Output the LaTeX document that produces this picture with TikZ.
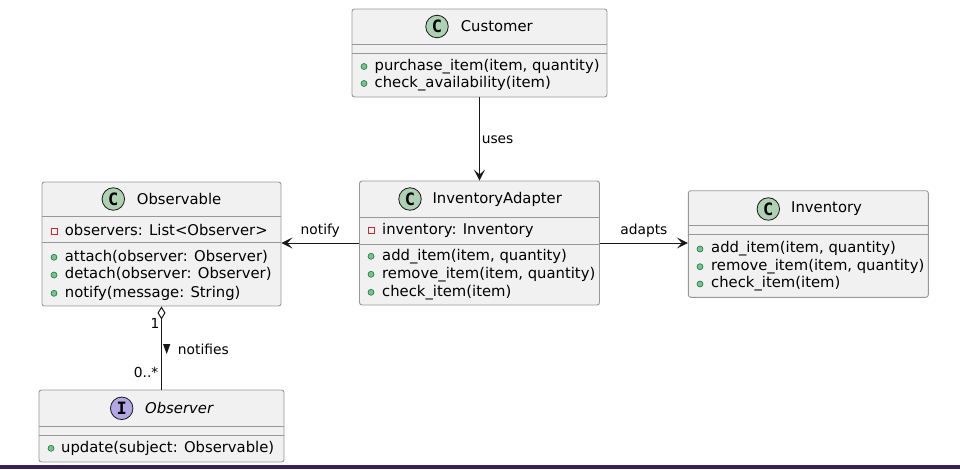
\documentclass[tikz,border=0pt]{standalone}
\usepackage{fontspec}
\setmainfont{DejaVu Sans}
\newfontfamily\spotfont{DejaVu Sans Mono}
\usetikzlibrary{arrows.meta,positioning}
\definecolor{boxfill}{HTML}{F1F1F1}
\definecolor{boxdraw}{HTML}{989898}
\definecolor{edgecol}{HTML}{181818}
\definecolor{classgreen}{HTML}{ADD1B2}
\definecolor{ifacepurple}{HTML}{B4A7E5}
\definecolor{privred}{HTML}{C82930}
\definecolor{pubfill}{HTML}{84BE84}
\definecolor{pubdraw}{HTML}{038048}
\definecolor{barpurple}{HTML}{3A1E5C}

\begin{document}
\begin{tikzpicture}[x=1pt,y=-1pt,
	classbox/.style={draw=boxdraw,fill=boxfill,rounded corners=2.5pt,line width=0.9pt,inner sep=0},
	sep/.style={draw=boxdraw,line width=0.9pt},
	spot/.style={circle,draw=edgecol,line width=0.8pt,minimum size=22.5pt,inner sep=0,
		font=\spotfont\bfseries\fontsize{17}{17}\selectfont},
	headname/.style={anchor=west,inner sep=0,font=\fontsize{14.8}{17}\selectfont},
	member/.style={anchor=west,inner sep=0,text height=11pt,text depth=3.5pt,
		font=\fontsize{14.8}{17}\selectfont},
	pub/.style={circle,fill=pubfill,draw=pubdraw,line width=0.6pt,minimum size=6pt,inner sep=0},
	priv/.style={rectangle,draw=privred,line width=0.9pt,minimum size=6pt,inner sep=0},
	rel/.style={draw=edgecol,line width=1pt},
	headarrow/.style={-{Stealth[length=11pt,width=11pt,inset=5pt]}},
	lbl/.style={inner sep=0,font=\fontsize{13.8}{16}\selectfont}]
\useasboundingbox (0,0) rectangle (960,469);
\fill[barpurple] (0,465) rectangle (960,469);

% Customer
\node[classbox,minimum width=255pt,minimum height=88pt] (customer) at (479.5,53) {};
\draw[sep] (352,44) -- (607,44) (352,53) -- (607,53);
\node[spot,fill=classgreen] (customerC) at (437,26.5) {C};
\node[headname] (customerN) at (460.7,26.5) {Customer};
\foreach \y/\t in {66.5/{purchase\_item(item, quantity)},83.5/{check\_availability(item)}}{
	\node[pub] at (364,\y) {};
	\node[member] at (374.5,\y) {\t};
}

% InventoryAdapter
\node[classbox,minimum width=240pt,minimum height=124pt] (adapter) at (479.5,243) {};
\draw[sep] (359.5,217) -- (599.5,217) (359.5,244) -- (599.5,244);
\node[spot,fill=classgreen] (adapterC) at (410,199) {C};
\node[headname] (adapterN) at (432.3,199) {InventoryAdapter};
\node[priv] at (371,230.7) {};
\node[member] at (382,230.7) {inventory: Inventory};
\foreach \y/\t in {256.3/{add\_item(item, quantity)},274.3/{remove\_item(item, quantity)},292.3/{check\_item(item)}}{
	\node[pub] at (371,\y) {};
	\node[member] at (382,\y) {\t};
}

% Inventory
\node[classbox,minimum width=240pt,minimum height=106.6pt] (inventory) at (808.3,244) {};
\draw[sep] (688.3,225.7) -- (928.3,225.7) (688.3,234.3) -- (928.3,234.3);
\node[spot,fill=classgreen] (inventoryC) at (768.3,209) {C};
\node[headname] (inventoryN) at (791,209) {Inventory};
\foreach \y/\t in {249/{add\_item(item, quantity)},266.7/{remove\_item(item, quantity)},284/{check\_item(item)}}{
	\node[pub] at (700,\y) {};
	\node[member] at (711,\y) {\t};
}

% Observable
\node[classbox,minimum width=239pt,minimum height=124pt] (observable) at (161.5,244) {};
\draw[sep] (42,216.7) -- (281,216.7) (42,242.7) -- (281,242.7);
\node[spot,fill=classgreen] (observableC) at (113.3,199) {C};
\node[headname] (observableN) at (136.7,199) {Observable};
\node[priv] at (54,231.7) {};
\node[member] at (64.7,231.7) {observers: List<Observer>};
\foreach \y/\t in {257.3/{attach(observer: Observer)},275/{detach(observer: Observer)},293.3/{notify(message: String)}}{
	\node[pub] at (54,\y) {};
	\node[member] at (64.7,\y) {\t};
}

% Observer
\node[classbox,minimum width=245pt,minimum height=72pt] (observer) at (161.5,426) {};
\draw[sep] (39,426) -- (284,426) (39,435) -- (284,435);
\node[spot,fill=ifacepurple] (observerI) at (121.7,408.3) {I};
\node[headname,font=\fontsize{14.8}{17}\selectfont\itshape] (observerN) at (145,408.3) {Observer};
\node[pub] at (51,448.3) {};
\node[member] at (61,448.3) {update(subject: Observable)};

% relations
\draw[rel,headarrow] (customer.south) -- (adapter.north)
	node[lbl,midway,anchor=west,xshift=1.8pt,yshift=-1pt] {uses};
\draw[rel,headarrow] (adapter.west) -- (adapter.west -| observable.east)
	node[lbl,midway,yshift=12pt] {notify};
\draw[rel,headarrow] (adapter.east) -- (adapter.east -| inventory.west)
	node[lbl,midway,yshift=12pt] {adapts};
\draw[rel,{Diamond[open,length=13pt,width=8pt]}-] (observable.south) -- (observer.north);
\node[lbl,anchor=east] (one) at (159.5,323.3) {1};
\node[lbl,anchor=east] (many) at (158.5,372.7) {0..*};
\fill[edgecol] (163,344) -- (170.3,344) -- (166.7,354) -- cycle;
\node[lbl,anchor=west] (notifies) at (177.7,349) {notifies};
\end{tikzpicture}
\end{document}
